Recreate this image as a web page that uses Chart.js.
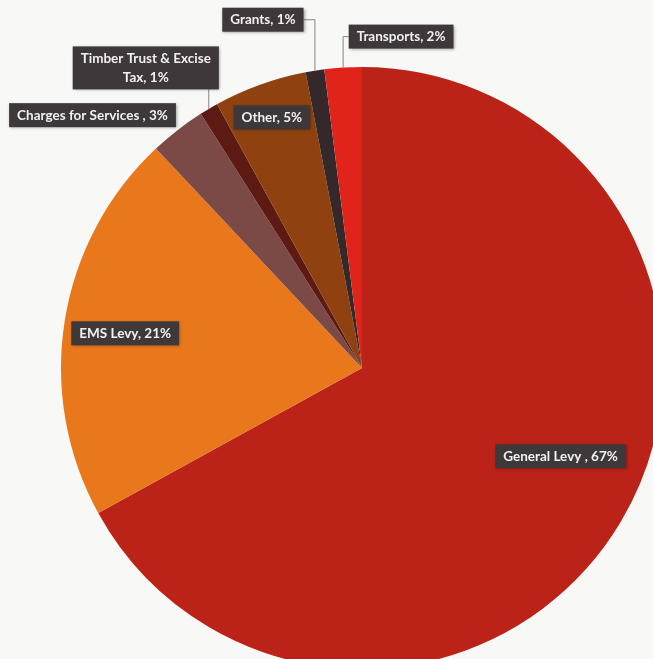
<!DOCTYPE html>
<html>
<head>
<meta charset="utf-8">
<script src="https://cdn.jsdelivr.net/npm/chart.js@4.4.1/dist/chart.umd.min.js"></script>
<style>
  html, body { margin: 0; padding: 0; background: #f8f8f6; }
  #wrap { width: 653px; height: 659px; overflow: hidden; }
</style>
</head>
<body>
<div id="wrap"><canvas id="revenueChart" width="653" height="659"></canvas></div>
<script>
// Data
const categories = ['General Levy ', 'EMS Levy', 'Charges for Services ', 'Timber Trust & Excise Tax', 'Other', 'Grants', 'Transports'];
const shares = [67, 21, 3, 1, 5, 1, 2];
const sliceColors = ['#bc2318', '#e8781b', '#7b4a46', '#5d1a13', '#8f420f', '#34282b', '#e1241a'];

// Label placement: r = anchor radius fraction on the slice mid-angle, dx/dy = box centre shift
const labelLayout = [
    { r: 0.72, dx: 12, dy: -22 },                       // General Levy
    { r: 0.80, dx: 1, dy: 3 },                          // EMS Levy
    { r: 1.00, dx: -85, dy: -15 },                      // Charges for Services
    { r: 1.00, dx: -63, dy: -41, leader: true, maxWidth: 155 }, // Timber Trust
    { r: 0.885, dx: 0, dy: 0 },                         // Other
    { r: 1.00, dx: -52, dy: -51, leader: true },        // Grants
    { r: 1.00, dx: 58, dy: -31, leader: true }          // Transports
];

const LABEL_FONT = 'bold 13.5px Lato';
const LINE_HEIGHT = 19;

/**
 * Splits a label into lines that fit a width.
 */
function wrapLabel(ctx, text, maxWidth) {
    if (!maxWidth) return [text];
    const words = text.split(' ');
    const lines = [];
    let line = '';
    words.forEach(word => {
        const test = line ? line + ' ' + word : word;
        if (ctx.measureText(test).width > maxWidth && line) {
            lines.push(line);
            line = word;
        } else {
            line = test;
        }
    });
    lines.push(line);
    return lines;
}

// Draws the dark callout boxes with their leader lines
const calloutPlugin = {
    id: 'callouts',
    afterDatasetsDraw(chart) {
        const ctx = chart.ctx;
        const meta = chart.getDatasetMeta(0);
        ctx.save();
        ctx.font = LABEL_FONT;
        meta.data.forEach((arc, i) => {
            const layout = labelLayout[i];
            const mid = (arc.startAngle + arc.endAngle) / 2;
            const edgeX = arc.x + Math.cos(mid) * arc.outerRadius;
            const edgeY = arc.y + Math.sin(mid) * arc.outerRadius;
            const ax = arc.x + Math.cos(mid) * arc.outerRadius * layout.r;
            const ay = arc.y + Math.sin(mid) * arc.outerRadius * layout.r;
            const cx = ax + layout.dx;
            const cy = ay + layout.dy;

            const text = categories[i] + ', ' + shares[i] + '%';
            const lines = wrapLabel(ctx, text, layout.maxWidth);
            const textW = Math.max(...lines.map(l => ctx.measureText(l).width));
            const boxW = textW + 16;
            const boxH = lines.length * LINE_HEIGHT + 5;
            const left = cx - boxW / 2;
            const top = cy - boxH / 2;

            if (layout.leader) {
                ctx.strokeStyle = '#858585';
                ctx.lineWidth = 1;
                ctx.beginPath();
                ctx.moveTo(edgeX, edgeY);
                if (edgeX >= left && edgeX <= left + boxW) {
                    ctx.lineTo(edgeX, top + boxH);
                } else {
                    ctx.lineTo(edgeX, cy);
                    ctx.lineTo(edgeX < left ? left : left + boxW, cy);
                }
                ctx.stroke();
            }

            ctx.shadowColor = 'rgba(0, 0, 0, 0.35)';
            ctx.shadowBlur = 3;
            ctx.shadowOffsetX = 1;
            ctx.shadowOffsetY = 1;
            ctx.fillStyle = '#3f383b';
            ctx.fillRect(left, top, boxW, boxH);
            ctx.shadowColor = 'transparent';

            ctx.fillStyle = '#f2f0f0';
            ctx.textAlign = 'center';
            ctx.textBaseline = 'middle';
            lines.forEach((line, k) => {
                ctx.fillText(line, cx, top + 2.5 + LINE_HEIGHT * (k + 0.5));
            });
        });
        ctx.restore();
    }
};

const chart = new Chart(document.getElementById('revenueChart'), {
    type: 'pie',
    data: {
        labels: categories,
        datasets: [{
            data: shares,
            backgroundColor: sliceColors,
            borderWidth: 0,
            clip: false
        }]
    },
    options: {
        responsive: false,
        animation: false,
        devicePixelRatio: 1,
        radius: 301,
        layout: { padding: { left: 71, top: 77, right: 0, bottom: 0 } },
        plugins: {
            legend: { display: false },
            tooltip: { enabled: false }
        }
    },
    plugins: [calloutPlugin]
});
</script>
</body>
</html>
